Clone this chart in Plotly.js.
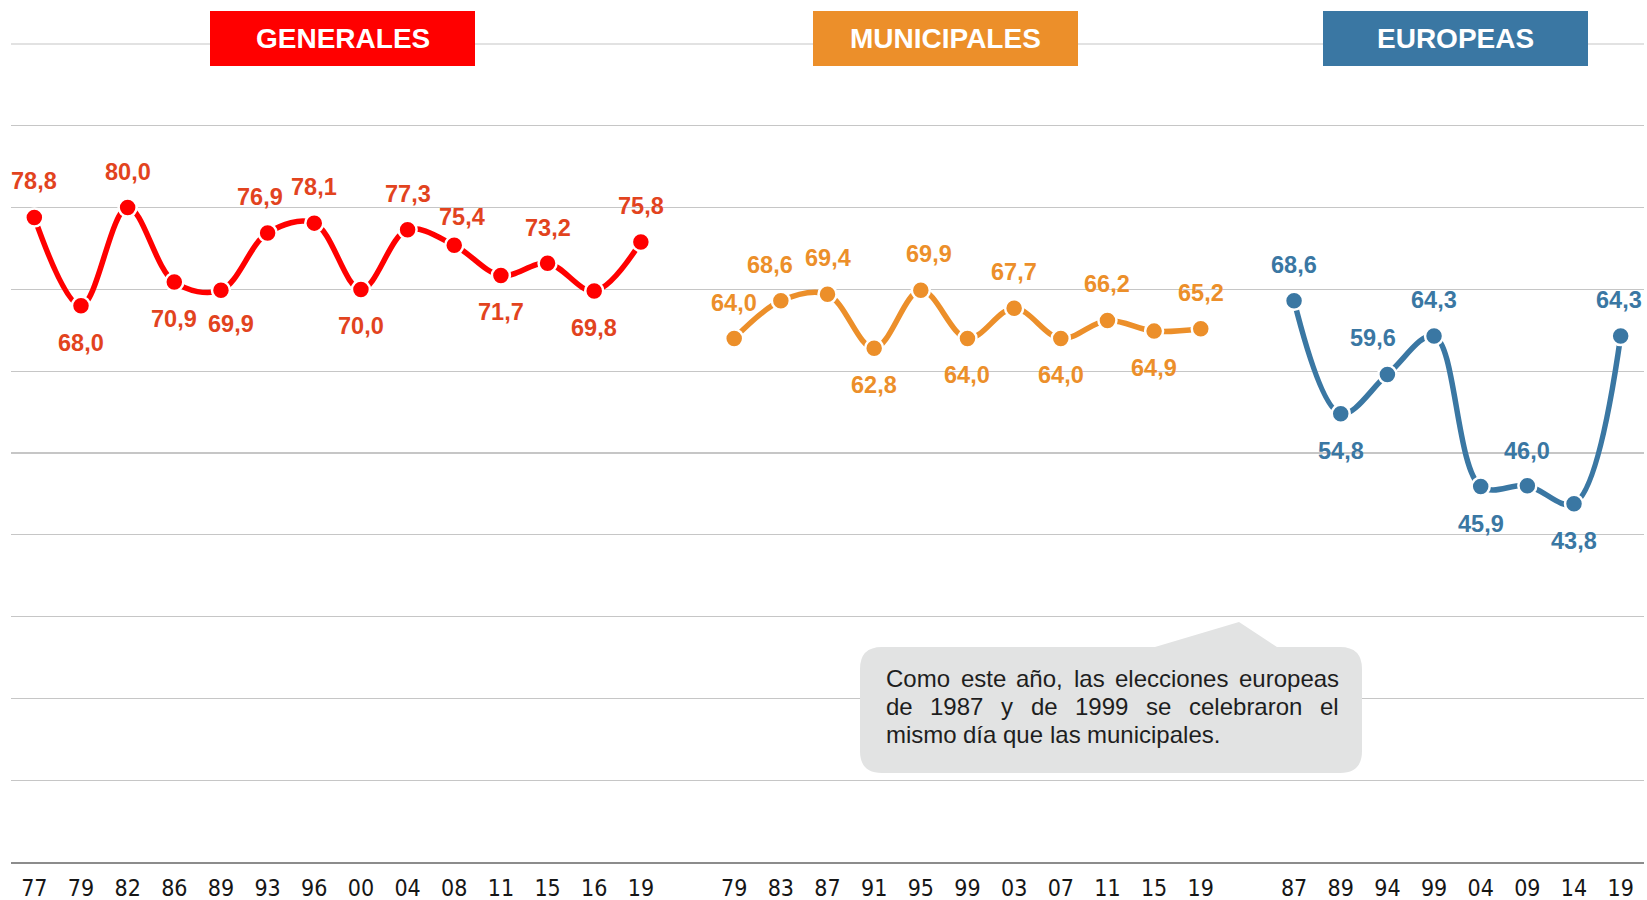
<!DOCTYPE html>
<html>
<head>
<meta charset="utf-8">
<script src="https://cdn.plot.ly/plotly-3.0.1.min.js"></script>
<style>
  html, body { margin: 0; padding: 0; background: #ffffff; }
  #chart { width: 1647px; height: 900px; }
</style>
</head>
<body>
<div id="chart"></div>
<script>
// ---------- DATA ----------
const generalesYears = ['77','79','82','86','89','93','96','00','04','08','11','15','16','19'];
const generalesTurnout = [78.8, 68.0, 80.0, 70.9, 69.9, 76.9, 78.1, 70.0, 77.3, 75.4, 71.7, 73.2, 69.8, 75.8];

const municipalesYears = ['79','83','87','91','95','99','03','07','11','15','19'];
const municipalesTurnout = [64.0, 68.6, 69.4, 62.8, 69.9, 64.0, 67.7, 64.0, 66.2, 64.9, 65.2];

const europeasYears = ['87','89','94','99','04','09','14','19'];
const europeasTurnout = [68.6, 54.8, 59.6, 64.3, 45.9, 46.0, 43.8, 64.3];

const groupTitles = ['GENERALES', 'MUNICIPALES', 'EUROPEAS'];
const noteText = 'Como este año, las elecciones europeas de 1987 y de 1999 se celebraron el mismo día que las municipales.';
const gridValues = [0, 10, 20, 30, 40, 50, 60, 70, 80, 90, 100];

// ---------- STYLE ----------
const W = 1647, H = 900;
const M = { l: 11, r: 3, t: 44, b: 38 };
const PW = W - M.l - M.r, PH = H - M.t - M.b;
const px = x => (x - M.l) / PW;
const py = y => (H - M.b - y) / PH;
const GRID = '#C6C6C6';

const series = [
  { years: generalesYears, vals: generalesTurnout, line: '#FF0000', label: '#E2431E', box: '#FF0000',
    dx:  [0,0,0,0,10,-8,0,0,0,8,0,0,0,0],
    dy:  [36,-37,36,-37,-34,36,36,-37,36,28,-37,35,-37,36],
    boxX: [210, 475] },
  { years: municipalesYears, vals: municipalesTurnout, line: '#EC8F2A', label: '#EC8F2A', box: '#EC8F2A',
    dx:  [0,-11,0,0,8,0,0,0,0,0,0],
    dy:  [35,36,36,-37,36,-37,36,-37,36,-37,36],
    boxX: [813, 1078] },
  { years: europeasYears, vals: europeasTurnout, line: '#3A77A3', label: '#3A77A3', box: '#3A77A3',
    dx:  [0,0,-14,0,0,0,0,-2],
    dy:  [36,-37,36,36,-37,35,-37,36],
    boxX: [1323, 1588] }
];

const traces = [];
const annotations = [];
const shapes = [];
const tickvals = [], ticktext = [];

// top gridline (Plotly skips the grid line lying on the plot edge)
shapes.push({ type: 'line', xref: 'paper', yref: 'paper', x0: 0, x1: 1, y0: 1, y1: 1,
  line: { color: GRID, width: 1.2 }, layer: 'below' });

let offset = 0;
series.forEach((s, si) => {
  const xs = s.years.map((_, i) => offset + i);
  xs.forEach((x, i) => { tickvals.push(x); ticktext.push(s.years[i]); });
  traces.push({
    x: xs, y: s.vals, type: 'scatter', mode: 'lines+markers',
    line: { color: s.line, width: 5.5, shape: 'spline', smoothing: 1 },
    marker: { color: s.line, size: 18, line: { color: '#ffffff', width: 2.5 } },
    hoverinfo: 'skip', showlegend: false, cliponaxis: false
  });
  xs.forEach((x, i) => {
    annotations.push({
      x: x, y: s.vals[i], xref: 'x', yref: 'y', showarrow: false,
      text: s.vals[i].toFixed(1).replace('.', ','),
      xshift: s.dx[i], yshift: s.dy[i],
      font: { family: '"Liberation Sans", Arial, sans-serif', size: 23.5, color: s.label, weight: 'bold' }
    });
  });
  // title box
  shapes.push({ type: 'rect', xref: 'paper', yref: 'paper',
    x0: px(s.boxX[0]), x1: px(s.boxX[1]), y0: py(66), y1: py(11),
    fillcolor: s.box, line: { width: 0 }, layer: 'above' });
  annotations.push({ xref: 'paper', yref: 'paper', x: px((s.boxX[0] + s.boxX[1]) / 2), y: py(38.5),
    xanchor: 'center', yanchor: 'middle', showarrow: false, text: groupTitles[si],
    font: { family: '"Liberation Sans", Arial, sans-serif', size: 28, color: '#ffffff', weight: 'bold' } });
  offset += s.years.length + 1;
});

// ---------- CALLOUT ----------
const cb = { l: 860, r: 1362, t: 647, b: 773, rad: 22 };
const ptr = { x0: 1155, ax: 1239, ay: 622, x1: 1277 };
const P = (x, y) => px(x).toFixed(6) + ',' + py(y).toFixed(6);
const path = 'M' + P(cb.l + cb.rad, cb.t) +
  ' L' + P(ptr.x0, cb.t) + ' L' + P(ptr.ax, ptr.ay) + ' L' + P(ptr.x1, cb.t) +
  ' L' + P(cb.r - cb.rad, cb.t) + ' Q' + P(cb.r, cb.t) + ' ' + P(cb.r, cb.t + cb.rad) +
  ' L' + P(cb.r, cb.b - cb.rad) + ' Q' + P(cb.r, cb.b) + ' ' + P(cb.r - cb.rad, cb.b) +
  ' L' + P(cb.l + cb.rad, cb.b) + ' Q' + P(cb.l, cb.b) + ' ' + P(cb.l, cb.b - cb.rad) +
  ' L' + P(cb.l, cb.t + cb.rad) + ' Q' + P(cb.l, cb.t) + ' ' + P(cb.l + cb.rad, cb.t) + ' Z';
shapes.push({ type: 'path', xref: 'paper', yref: 'paper', path: path,
  fillcolor: '#E2E3E3', line: { width: 0 }, layer: 'above' });

// justified text
const noteFontSize = 24;
const noteFamily = '"Liberation Sans", Arial, sans-serif';
const ctx = document.createElement('canvas').getContext('2d');
ctx.font = noteFontSize + 'px ' + noteFamily;
const textL = 885, textR = 1338, lineY0 = 678, lineH = 28;
const maxW = textR - textL;
const words = noteText.split(' ');
const lines = [];
let cur = [];
words.forEach(w => {
  const test = cur.concat([w]).join(' ');
  if (ctx.measureText(test).width > maxW && cur.length) { lines.push(cur); cur = [w]; }
  else cur.push(w);
});
if (cur.length) lines.push(cur);
lines.forEach((ln, li) => {
  const y = lineY0 + li * lineH;
  const widths = ln.map(w => ctx.measureText(w).width);
  const total = widths.reduce((a, b) => a + b, 0);
  const last = li === lines.length - 1;
  const gap = (!last && ln.length > 1) ? (maxW - total) / (ln.length - 1) : ctx.measureText(' ').width;
  let x = textL;
  ln.forEach((w, wi) => {
    annotations.push({ xref: 'paper', yref: 'paper', x: px(x), y: py(y), xanchor: 'left', yanchor: 'middle',
      showarrow: false, text: w, borderpad: 0,
      font: { family: noteFamily, size: noteFontSize, color: '#1e1e1e' } });
    x += widths[wi] + gap;
  });
});

const layout = {
  width: W, height: H,
  margin: M,
  paper_bgcolor: '#ffffff', plot_bgcolor: '#ffffff',
  showlegend: false,
  xaxis: {
    range: [-0.5, offset - 1.5], tickmode: 'array', tickvals: tickvals, ticktext: ticktext,
    showgrid: false, zeroline: false, showline: true, linecolor: '#8c8c8c', linewidth: 2,
    ticks: 'outside', ticklen: 0, tickcolor: 'rgba(0,0,0,0)', ticklabelstandoff: 4,
    tickfont: { family: '"Liberation Sans Narrow", "Arial Narrow", "DejaVu Sans Condensed", sans-serif', size: 23, color: '#161616' },
    fixedrange: true
  },
  yaxis: {
    range: [0, 100], tickmode: 'array', tickvals: gridValues,
    showgrid: true, gridcolor: GRID, gridwidth: 1.2,
    zeroline: false, showticklabels: false, ticks: '', fixedrange: true
  },
  shapes: shapes,
  annotations: annotations
};

Plotly.newPlot('chart', traces, layout, { displayModeBar: false, staticPlot: true });
</script>
</body>
</html>
